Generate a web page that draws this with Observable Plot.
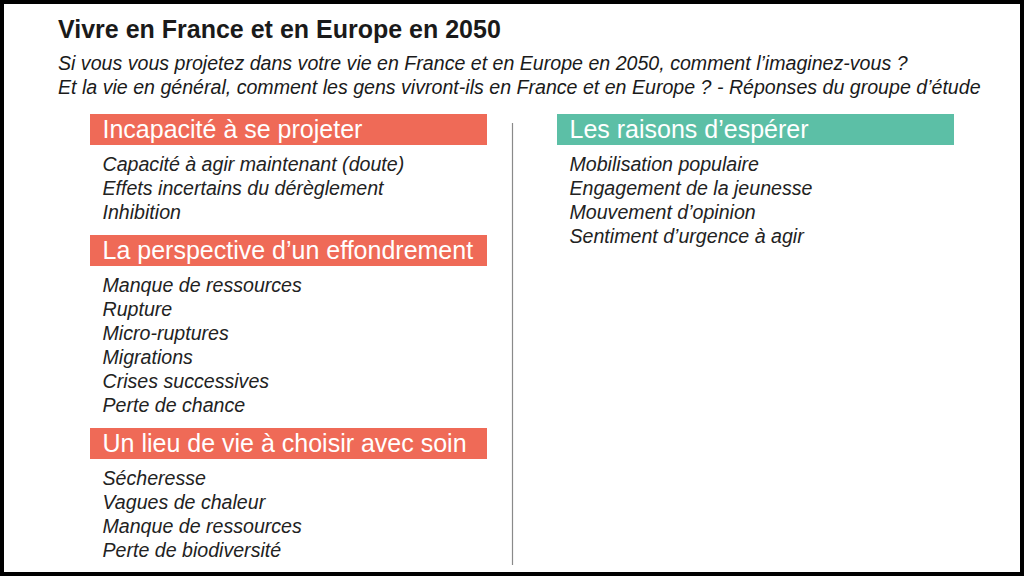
<!DOCTYPE html>
<html>
<head>
<meta charset="utf-8">
<script src="https://cdn.jsdelivr.net/npm/d3@7"></script>
<script src="https://cdn.jsdelivr.net/npm/@observablehq/plot@0.6"></script>
<style>
  html, body { margin: 0; padding: 0; background: #fff; }
  #slide {
    position: relative; width: 1024px; height: 576px; box-sizing: border-box;
    border: 4px solid #000; background: #fff; overflow: hidden;
    font-family: "Liberation Sans", Arial, Helvetica, sans-serif; color: #1a1a1a;
  }
  #title {
    position: absolute; left: 54px; top: 11px; margin: 0;
    font-size: 25px; line-height: 28px; font-weight: bold; white-space: nowrap;
  }
  #subtitle {
    position: absolute; left: 54px; top: 47px; margin: 0;
    font-size: 19.6px; line-height: 24px; font-style: italic; font-weight: normal; white-space: nowrap;
  }
  #chart { position: absolute; left: 0; top: 100px; }
</style>
</head>
<body>
<div id="slide">
  <h2 id="title"></h2>
  <h3 id="subtitle"></h3>
  <div id="chart"></div>
</div>
<script>
// ---- data ----
const title = "Vivre en France et en Europe en 2050";
const subtitleLines = [
  "Si vous vous projetez dans votre vie en France et en Europe en 2050, comment l’imaginez-vous ?",
  "Et la vie en général, comment les gens vivront-ils en France et en Europe ? - Réponses du groupe d’étude"
];
const leftHeaders = [
  "Incapacité à se projeter",
  "La perspective d’un effondrement",
  "Un lieu de vie à choisir avec soin"
];
const leftItems = [
  ["Capacité à agir maintenant (doute)", "Effets incertains du dérèglement", "Inhibition"],
  ["Manque de ressources", "Rupture", "Micro-ruptures", "Migrations", "Crises successives", "Perte de chance"],
  ["Sécheresse", "Vagues de chaleur", "Manque de ressources", "Perte de biodiversité"]
];
const rightHeaders = ["Les raisons d’espérer"];
const rightItems = [
  ["Mobilisation populaire", "Engagement de la jeunesse", "Mouvement d’opinion", "Sentiment d’urgence à agir"]
];
const columnTones = ["crainte", "espoir"];
const toneColors = ["#EF6A57", "#5CBFA6"];

// ---- layout (page pixel space) ----
const colLeftX = [90, 557];
const boxWidth = 397;
const textInset = 12;
const firstTop = 114;
const headerH = 31;
const firstGap = 19;
const lineStep = 24;
const afterGap = 23;
const dividerX = 512, dividerTop = 123, dividerBottom = 565;

document.getElementById("title").textContent = title;
document.getElementById("subtitle").innerHTML = subtitleLines.map(s => s.replace(/&/g, "&amp;").replace(/</g, "&lt;")).join("<br>");

const boxes = [];
const items = [];
[[leftHeaders, leftItems], [rightHeaders, rightItems]].forEach(([headers, lists], c) => {
  let top = firstTop;
  headers.forEach((h, s) => {
    boxes.push({label: h, tone: columnTones[c], x1: colLeftX[c], x2: colLeftX[c] + boxWidth, y1: top, y2: top + headerH, tx: colLeftX[c] + textInset, ty: top + headerH / 2});
    let y = top + headerH + firstGap;
    lists[s].forEach((t, i) => {
      items.push({label: t, x: colLeftX[c] + textInset, y});
      if (i < lists[s].length - 1) y += lineStep;
    });
    top = y + afterGap;
  });
});

const chart = Plot.plot({
  width: 1016,
  height: 468,
  margin: 0,
  style: {fontFamily: "'Liberation Sans', Arial, Helvetica, sans-serif", background: "transparent", overflow: "visible"},
  x: {type: "linear", domain: [4, 1020], range: [0, 1016], axis: null},
  y: {type: "linear", domain: [104, 572], range: [0, 468], axis: null},
  color: {domain: columnTones, range: toneColors},
  marks: [
    Plot.ruleX([dividerX], {y1: dividerTop, y2: dividerBottom, stroke: "#8a8a8a", strokeWidth: 1.2}),
    Plot.rect(boxes, {x1: "x1", x2: "x2", y1: "y1", y2: "y2", fill: "tone"}),
    Plot.text(boxes, {x: "tx", y: "ty", text: "label", fill: "white", fontSize: 25, textAnchor: "start", lineAnchor: "middle"}),
    Plot.text(items, {x: "x", y: "y", text: "label", fill: "#222", fontSize: 19.6, fontStyle: "italic", textAnchor: "start", lineAnchor: "middle"})
  ]
});
document.getElementById("chart").appendChild(chart);
</script>
</body>
</html>
